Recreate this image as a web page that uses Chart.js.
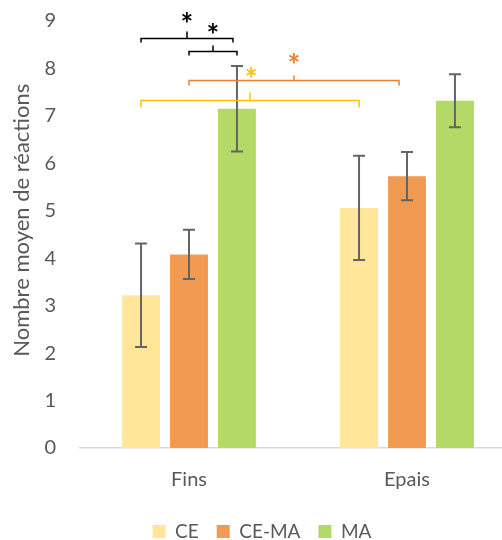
<!DOCTYPE html>
<html><head><meta charset="utf-8">
<script src="https://cdn.jsdelivr.net/npm/chart.js@4.4.0/dist/chart.umd.min.js"></script>
<style>
html,body{margin:0;padding:0;background:#fff;overflow:hidden}
#wrap{width:502px;height:540px;overflow:hidden;position:relative}
canvas{display:block}
</style></head><body>
<div id="wrap"><canvas id="c" width="530" height="551" style="width:530px;height:551px"></canvas></div>
<script>
// ---- data ----
const categories = ['Fins', 'Epais'];
const seriesNames = ['CE', 'CE-MA', 'MA'];
const ceValues = [3.22, 5.06];
const cemaValues = [4.08, 5.73];
const maValues = [7.15, 7.32];
const ceErrors = [1.09, 1.10];
const cemaErrors = [0.52, 0.51];
const maErrors = [0.90, 0.56];
const yTickValues = [0, 1, 2, 3, 4, 5, 6, 7, 8, 9];
const yTitle = 'Nombre moyen de réactions';
// significance brackets: from [series, category] to [series, category], bracket level (y value), star label
const bracketFrom = [[0, 0], [1, 0], [1, 0], [0, 0]];
const bracketTo = [[2, 0], [2, 0], [1, 1], [0, 1]];
const bracketLevel = [8.64, 8.37, 7.76, 7.34];
const bracketLabel = ['*', '*', '*', '*'];

// ---- styles ----
const seriesColors = ['#FFE699', '#F09A52', '#B5D966'];
const bracketColors = ['#000000', '#000000', '#ED7D31', '#FFC000'];
const textColor = '#595959';
const FONT = 'Lato';

const valueSets = [ceValues, cemaValues, maValues];
const errorSets = [ceErrors, cemaErrors, maErrors];

const errorBarPlugin = {
  id: 'errorBars',
  afterDatasetsDraw(chart) {
    const ctx = chart.ctx, y = chart.scales.y;
    ctx.save();
    ctx.strokeStyle = '#646464';
    ctx.lineWidth = 2;
    errorSets.forEach((errs, d) => {
      const meta = chart.getDatasetMeta(d);
      meta.data.forEach((bar, i) => {
        const v = valueSets[d][i], e = errs[i];
        const yt = y.getPixelForValue(v + e), yb = y.getPixelForValue(v - e);
        const x = bar.x, cap = 6;
        ctx.beginPath();
        ctx.moveTo(x, yt); ctx.lineTo(x, yb);
        ctx.moveTo(x - cap, yt); ctx.lineTo(x + cap, yt);
        ctx.moveTo(x - cap, yb); ctx.lineTo(x + cap, yb);
        ctx.stroke();
      });
    });
    ctx.restore();
  }
};

const bracketPlugin = {
  id: 'brackets',
  afterDraw(chart) {
    const ctx = chart.ctx, y = chart.scales.y;
    const hooks = [4, 4, 5, 7];
    const tips = [7, 6, 5, 8];
    const starRise = [21, 23, 22, 28];
    ctx.save();
    ctx.lineWidth = 1.5;
    bracketLevel.forEach((lv, k) => {
      const a = chart.getDatasetMeta(bracketFrom[k][0]).data[bracketFrom[k][1]];
      const b = chart.getDatasetMeta(bracketTo[k][0]).data[bracketTo[k][1]];
      let x1 = a.x, x2 = b.x;
      if (k === 0) x2 -= 4;
      if (k === 2) x2 -= 8;
      const yy = Math.round(y.getPixelForValue(lv)) + 0.5;
      const xm = (x1 + x2) / 2;
      ctx.strokeStyle = bracketColors[k];
      ctx.beginPath();
      ctx.moveTo(x1, yy + hooks[k]); ctx.lineTo(x1, yy); ctx.lineTo(x2, yy); ctx.lineTo(x2, yy + hooks[k]);
      ctx.moveTo(xm, yy); ctx.lineTo(xm, yy - tips[k]);
      ctx.stroke();
      ctx.fillStyle = bracketColors[k];
      const fs = 30;
      ctx.font = 'bold ' + fs + 'px ' + FONT;
      ctx.textAlign = 'center';
      ctx.textBaseline = 'alphabetic';
      let sx = xm;
      if (k === 3) sx = xm + 1;
      ctx.fillText(bracketLabel[k], sx, yy - starRise[k] + 0.58 * fs);
    });
    ctx.restore();
  }
};

const yTitlePlugin = {
  id: 'yTitle',
  afterDraw(chart) {
    const ctx = chart.ctx, y = chart.scales.y;
    ctx.save();
    ctx.translate(22, y.getPixelForValue(4.8));
    ctx.rotate(-Math.PI / 2);
    ctx.font = '22px ' + FONT;
    ctx.fillStyle = textColor;
    ctx.textAlign = 'center';
    ctx.textBaseline = 'middle';
    ctx.fillText(yTitle, 0, 0);
    ctx.restore();
  }
};

new Chart(document.getElementById('c'), {
  type: 'bar',
  data: {
    labels: categories,
    datasets: seriesNames.map((n, i) => ({
      label: n,
      data: valueSets[i],
      backgroundColor: seriesColors[i],
      borderWidth: 0,
      categoryPercentage: 0.66,
      barPercentage: 0.79
    }))
  },
  options: {
    responsive: false,
    animation: false,
    devicePixelRatio: 1,
    layout: { padding: { top: 21, left: 8, right: 14, bottom: 0 } },
    plugins: {
      legend: {
        position: 'bottom',
        labels: { boxWidth: 13, boxHeight: 13, padding: 18, color: textColor, font: { family: FONT, size: 19 } }
      },
      tooltip: { enabled: false }
    },
    scales: {
      x: {
        grid: { display: false, drawTicks: false },
        border: { display: true, color: '#D9D9D9', width: 1.5 },
        ticks: { color: textColor, font: { family: FONT, size: 20 }, padding: 20 },
        afterFit(s) { s.height = 56; }
      },
      y: {
        min: 0, max: 9,
        grid: { display: false, drawTicks: false },
        border: { display: false },
        afterBuildTicks(s) { s.ticks = yTickValues.map(v => ({ value: v })); },
        ticks: { color: textColor, font: { family: FONT, size: 20 }, padding: 24 },
        afterFit(s) { s.width = 72; s.paddingTop = 0; s.paddingBottom = 0; }
      }
    }
  },
  plugins: [errorBarPlugin, bracketPlugin, yTitlePlugin]
});
</script>
</body></html>
